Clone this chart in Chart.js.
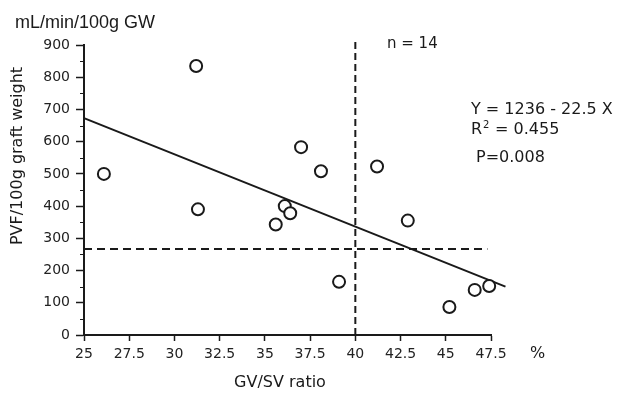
<!DOCTYPE html>
<html lang="en">
<head>
  <meta charset="UTF-8" />
  <title>PVF vs GV/SV ratio</title>
  <script src="https://cdn.jsdelivr.net/npm/chart.js"></script>
  <style>
    html, body { margin: 0; padding: 0; background: #fff; }
    #wrap { width: 617px; height: 395px; position: relative; }
  </style>
</head>
<body>
  <div id="wrap"><canvas id="scatterChart"></canvas></div>

  <script>
    // values
    const gvRatio = [26.1, 31.2, 31.3, 35.6, 36.1, 36.4, 37.0, 38.1, 39.1, 41.2, 42.9, 45.2, 46.6, 47.4];
    const pvf     = [500, 835, 390, 343, 400, 378, 583, 508, 165, 523, 355, 87, 140, 152];
    const fitX = [25, 48.3];
    const fitY = [673, 150];
    const cutoffX = 40;
    const cutoffY = 267;
    const xTicks = [25, 27.5, 30, 32.5, 35, 37.5, 40, 42.5, 45, 47.5];
    const yTicks = [0, 100, 200, 300, 400, 500, 600, 700, 800, 900];

    const ink = '#1a1a1a';
    Chart.defaults.font.family = "'DejaVu Sans', sans-serif";
    Chart.defaults.color = ink;

    // texts and minor ticks
    const extras = {
      id: 'extras',
      afterDraw(chart) {
        const ctx = chart.ctx;
        const y = chart.scales.y;
        ctx.save();
        // minor ticks on y axis
        ctx.strokeStyle = ink;
        ctx.lineWidth = 1;
        for (let v = 50; v < 900; v += 100) {
          const py = Math.round(y.getPixelForValue(v)) + 0.5;
          ctx.beginPath();
          ctx.moveTo(y.right - 4, py);
          ctx.lineTo(y.right, py);
          ctx.stroke();
        }

        ctx.fillStyle = ink;
        ctx.textBaseline = 'middle';
        ctx.textAlign = 'left';
        ctx.font = "18px 'Liberation Sans', Arial, sans-serif";
        ctx.fillText('mL/min/100g GW', 15, 23);

        ctx.font = "15px 'DejaVu Sans', sans-serif";
        ctx.fillText('n = 14', 387, 44);

        ctx.font = "16px 'DejaVu Sans', sans-serif";
        ctx.fillText('Y = 1236 - 22.5 X', 471, 110);
        ctx.fillText('R', 471, 130);
        ctx.font = "10px 'DejaVu Sans', sans-serif";
        ctx.fillText('2', 483, 125);
        ctx.font = "16px 'DejaVu Sans', sans-serif";
        ctx.fillText(' = 0.455', 490, 130);
        ctx.fillText('P=0.008', 476, 158);

        ctx.fillText('%', 530, 354);

        ctx.textAlign = 'center';
        ctx.font = "16px 'DejaVu Sans', sans-serif";
        ctx.fillText('GV/SV ratio', 280, 383);

        ctx.translate(18, 156);
        ctx.rotate(-Math.PI / 2);
        ctx.font = "16px 'DejaVu Sans', sans-serif";
        ctx.fillText('PVF/100g graft weight', 0, 0);
        ctx.restore();
      }
    };

    new Chart(document.getElementById('scatterChart'), {
      type: 'scatter',
      data: {
        datasets: [
          {
            label: 'PVF',
            data: gvRatio.map((x, i) => ({ x: x, y: pvf[i] })),
            pointRadius: 6,
            pointHoverRadius: 6,
            borderWidth: 2,
            borderColor: ink,
            backgroundColor: '#fff',
            clip: false
          },
          {
            label: 'fit',
            type: 'line',
            data: fitX.map((x, i) => ({ x: x, y: fitY[i] })),
            borderColor: ink,
            borderWidth: 2,
            pointRadius: 0,
            fill: false,
            clip: false
          },
          {
            label: 'cutoff y',
            type: 'line',
            data: [{ x: 25, y: cutoffY }, { x: 47.3, y: cutoffY }],
            borderColor: ink,
            borderWidth: 2,
            borderDash: [8, 5],
            pointRadius: 0,
            fill: false,
            clip: false
          },
          {
            label: 'cutoff x',
            type: 'line',
            data: [{ x: cutoffX, y: 0 }, { x: cutoffX, y: 916 }],
            borderColor: ink,
            borderWidth: 2,
            borderDash: [7, 4],
            pointRadius: 0,
            fill: false,
            clip: false
          }
        ]
      },
      options: {
        responsive: true,
        maintainAspectRatio: false,
        animation: false,
        layout: { padding: { top: 45, right: 126, left: 0, bottom: 0 } },
        plugins: {
          legend: { display: false },
          tooltip: { enabled: false }
        },
        scales: {
          x: {
            type: 'linear',
            min: 25,
            max: 47.5,
            afterFit: s => { s.height = 60; },
            afterBuildTicks: s => { s.ticks = xTicks.map(v => ({ value: v })); },
            ticks: { font: { size: 14 }, padding: 5, color: '#222' },
            grid: { drawOnChartArea: false, tickLength: 6, tickColor: ink, tickWidth: 1.5 },
            border: { color: ink, width: 2 }
          },
          y: {
            type: 'linear',
            min: 0,
            max: 900,
            afterFit: s => { s.width = 84; },
            afterBuildTicks: s => { s.ticks = yTicks.map(v => ({ value: v })); },
            ticks: { font: { size: 14 }, padding: 6, color: '#222' },
            grid: { drawOnChartArea: false, tickLength: 8, tickColor: ink, tickWidth: 1.5 },
            border: { color: ink, width: 2 }
          }
        }
      },
      plugins: [extras]
    });
  </script>
</body>
</html>
